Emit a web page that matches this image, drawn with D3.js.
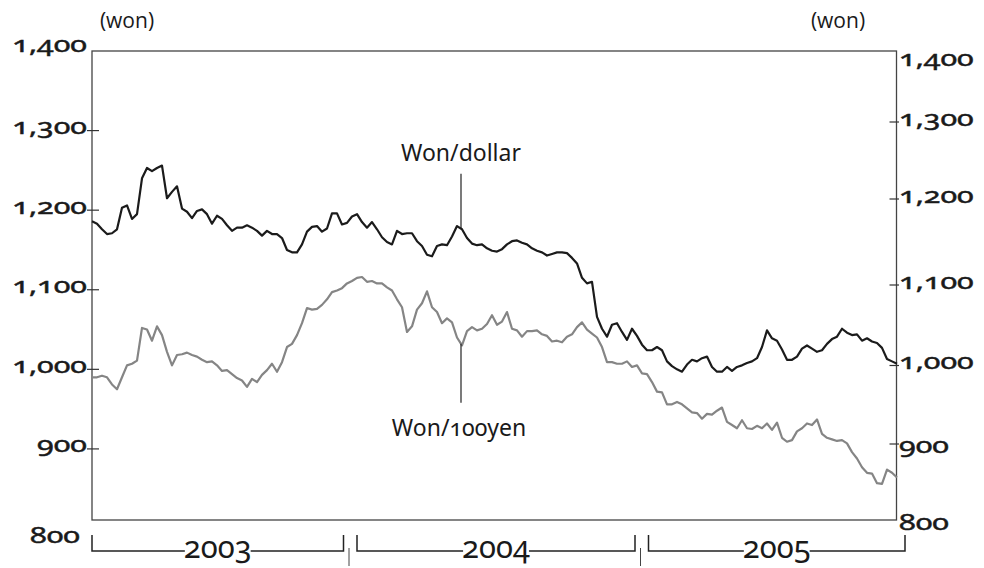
<!DOCTYPE html>
<html><head><meta charset="utf-8">
<script src="https://cdn.jsdelivr.net/npm/d3@7"></script>
<style>
html,body{margin:0;padding:0;background:#fff;}
svg{display:block;}
</style></head><body>
<svg id="chart" width="984" height="568"></svg>
<script>
// Weekly-ish samples, Jan 2003 - Dec 2005 (won)
const wonDollar = [
1186,1183,1176,1170,1171,1176,1203,1206,1189,1195,
1240,1253,1249,1253,1256,1215,1223,1230,1202,1198,
1190,1199,1201,1195,1183,1193,1189,1181,1174,1178,
1178,1181,1178,1174,1168,1174,1170,1170,1165,1150,
1147,1147,1157,1173,1179,1180,1173,1177,1196,1196,
1182,1184,1192,1195,1185,1178,1185,1176,1166,1160,
1157,1174,1170,1171,1171,1161,1155,1144,1142,1155,
1157,1156,1167,1180,1176,1165,1158,1156,1157,1152,
1149,1148,1151,1157,1161,1162,1159,1157,1152,1149,
1147,1143,1145,1147,1147,1146,1140,1133,1115,1108,
1110,1066,1051,1041,1056,1058,1047,1037,1051,1042,
1031,1024,1024,1028,1024,1010,1004,1000,997,1006,
1012,1010,1014,1016,1003,997,997,1003,998,1003,
1005,1008,1010,1014,1028,1049,1039,1036,1025,1012,
1012,1016,1026,1030,1026,1022,1024,1032,1038,1041,
1051,1046,1043,1044,1036,1039,1035,1033,1027,1013,
1010,1007];
const won100Yen = [
990,990,992,990,981,975,990,1005,1007,1011,
1052,1050,1036,1054,1043,1022,1005,1018,1019,1021,
1018,1016,1012,1009,1010,1005,998,999,994,989,
986,978,988,984,993,999,1007,997,1009,1028,
1032,1043,1058,1077,1075,1076,1081,1088,1097,1099,
1102,1108,1111,1115,1116,1110,1111,1108,1108,1103,
1099,1088,1078,1047,1054,1075,1083,1098,1078,1072,
1058,1064,1059,1040,1030,1048,1053,1049,1051,1057,
1068,1056,1060,1072,1051,1049,1041,1048,1048,1049,
1044,1042,1035,1036,1034,1041,1044,1053,1059,1050,
1045,1040,1028,1009,1009,1007,1007,1010,1003,1005,
995,994,984,972,971,956,956,959,956,951,
946,945,938,944,943,948,952,934,930,926,
936,926,925,929,926,932,924,933,914,909,
911,922,926,932,930,937,919,914,912,910,
911,907,896,888,877,870,869,857,856,874,
870,864];
const axisTicks = [800,900,1000,1100,1200,1300,1400];
const years = ["2003","2004","2005"];
const yearEdges = [2003,2004,2005,2006];
const seriesNames = ["Won/dollar","Won/100yen"];
const unitLabel = "(won)";
const labelIndex = 73.8;   // sample where the two leader lines sit

const svg = d3.select("#chart");
const n = wonDollar.length;
const plotBottom = 520;

const x = d3.scaleLinear().domain([0, n - 1]).range([92, 897]);
const y = d3.scaleLinear().domain([800, 1400]).range([528.5, 51]);
// right-hand scale as drawn in the original (slightly uneven)
const yR = d3.scaleLinear().domain(axisTicks).range([530, 444, 365.5, 285, 199, 122, 51]);
const xb = d3.scaleLinear().domain(yearEdges).range([92, 349, 640.5, 905]);

const numFont = "'Noto Sans', 'Open Sans', sans-serif";
const sx = 1.45;

function styleNum(sel, size) {
  sel.attr("font-family", numFont).attr("font-size", size).attr("fill", "#1a1a1a")
    .attr("stroke", "#1a1a1a").attr("stroke-width", 0.45)
    .style("font-variant-numeric", "oldstyle-nums");
}

// frame
svg.append("rect")
  .attr("x", x(0)).attr("y", y(1400))
  .attr("width", x(n - 1) - x(0) - 0.5).attr("height", plotBottom - y(1400))
  .attr("fill", "none").attr("stroke", "#444").attr("stroke-width", 1.3);

// left axis labels
const gl = svg.append("g").attr("transform", `translate(${x(0)},0)`)
  .call(d3.axisLeft(y).tickValues(axisTicks).tickSize(0).tickFormat(d3.format(",")));
gl.select(".domain").remove();
gl.selectAll("text").call(styleNum, 21)
  .attr("transform", `scale(${sx},1)`)
  .attr("x", d => (d === 800 ? -12 : -5) / sx)
  .attr("dy", d => d === 800 ? 13.5 : (d === 1400 ? 0 : 3));
// left tick marks
svg.append("g").selectAll("line").data(axisTicks.filter(v => v > 800 && v < 1400)).join("line")
  .attr("x1", x(0) - 5).attr("x2", x(0) + 7)
  .attr("y1", d => y(d)).attr("y2", d => y(d))
  .attr("stroke", "#333").attr("stroke-width", 1.2);

// right axis labels
const gr = svg.append("g").attr("transform", `translate(${x(n - 1) - 0.5},0)`)
  .call(d3.axisRight(yR).tickValues(axisTicks).tickSize(0).tickFormat(d3.format(",")));
gr.select(".domain").remove();
gr.selectAll("text").call(styleNum, 21)
  .attr("transform", `scale(${sx},1)`)
  .attr("x", 2.5 / sx)
  .attr("dy", d => d === 1400 ? 14 : (d === 900 ? 8 : (d === 800 ? -1 : 3)));
svg.append("g").selectAll("line").data(axisTicks.filter(v => v > 800 && v < 1400)).join("line")
  .attr("x1", x(n - 1) - 7.5).attr("x2", x(n - 1) + 2)
  .attr("y1", d => yR(d)).attr("y2", d => yR(d))
  .attr("stroke", "#333").attr("stroke-width", 1.2);

// unit labels
[127, 838].forEach(cx => {
  svg.append("text").attr("x", cx).attr("y", 28).attr("text-anchor", "middle")
    .attr("font-family", "'Open Sans', sans-serif").attr("font-size", 21).attr("fill", "#1a1a1a")
    .text(unitLabel);
});

// lines
const line = d3.line().x((d, i) => x(i)).y(d => y(d));
svg.append("path").datum(won100Yen).attr("d", line)
  .attr("fill", "none").attr("stroke", "#858585").attr("stroke-width", 2.2)
  .attr("stroke-linejoin", "round");
svg.append("path").datum(wonDollar).attr("d", line)
  .attr("fill", "none").attr("stroke", "#1b1b1b").attr("stroke-width", 2.2)
  .attr("stroke-linejoin", "round");

// annotations
const lx = x(labelIndex);
const i0 = Math.floor(labelIndex), f = labelIndex - i0;
const dAt = wonDollar[i0] * (1 - f) + wonDollar[i0 + 1] * f;
const yAt = won100Yen[i0] * (1 - f) + won100Yen[i0 + 1] * f;
svg.append("line").attr("x1", lx).attr("x2", lx).attr("y1", y(dAt) - 55).attr("y2", y(dAt))
  .attr("stroke", "#222").attr("stroke-width", 1.2);
svg.append("line").attr("x1", lx).attr("x2", lx).attr("y1", y(yAt)).attr("y2", y(yAt) + 59)
  .attr("stroke", "#222").attr("stroke-width", 1.2);
svg.append("text").attr("x", lx).attr("y", y(dAt) - 68).attr("text-anchor", "middle")
  .attr("font-family", numFont).attr("font-size", 23).attr("fill", "#1a1a1a")
  .style("font-variant-numeric", "oldstyle-nums")
  .text(seriesNames[0]);
svg.append("text").attr("x", lx - 2).attr("y", y(yAt) + 92).attr("text-anchor", "middle")
  .attr("font-family", numFont).attr("font-size", 23).attr("fill", "#1a1a1a")
  .style("font-variant-numeric", "oldstyle-nums")
  .text(seriesNames[1]);

// year brackets
const bracketY = 551, bracketTop = 535;
const gy = svg.append("g");
years.forEach((yr, i) => {
  const x0 = xb(yearEdges[i]) + (i > 0 ? 8 : 0);
  const x1 = xb(yearEdges[i + 1]) - (i < years.length - 1 ? 5.5 : 0);
  const cx = (x0 + x1) / 2;
  const t = gy.append("text").attr("x", cx).attr("y", 558).attr("text-anchor", "middle")
    .attr("font-family", numFont).attr("font-size", 31).attr("fill", "#1a1a1a")
    .style("font-variant-numeric", "oldstyle-nums").text(yr);
  const bb = t.node().getBBox();
  gy.append("path")
    .attr("d", `M${x0},${bracketTop}V${bracketY}H${bb.x + 1}M${bb.x + bb.width - 1},${bracketY}H${x1}V${bracketTop}`)
    .attr("fill", "none").attr("stroke", "#222").attr("stroke-width", 1.5);
  if (i > 0) {
    gy.append("line").attr("x1", xb(yearEdges[i])).attr("x2", xb(yearEdges[i]))
      .attr("y1", 548).attr("y2", 566).attr("stroke", "#444").attr("stroke-width", 1);
  }
});
</script>
</body></html>
